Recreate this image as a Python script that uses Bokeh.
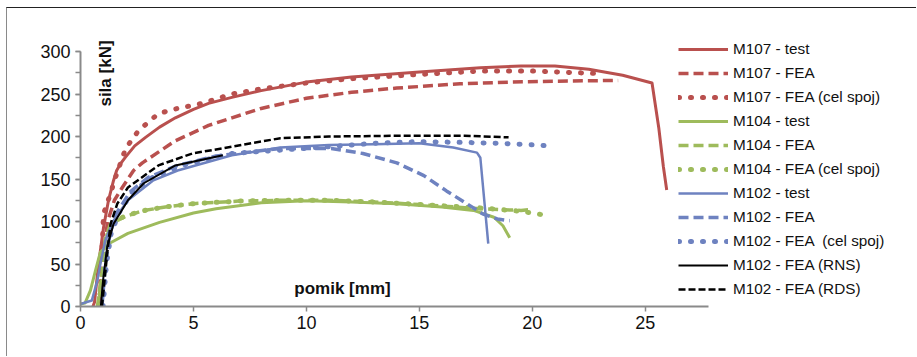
from bokeh.plotting import figure
from bokeh.models import SingleIntervalTicker, Label, Range1d
from bokeh.embed import file_html
from bokeh.resources import INLINE
from math import pi

# ---- data (displacement [mm], force [kN]) ----
m107_test_x = [0.55, 0.62, 0.8, 1.02, 1.24, 1.46, 1.6, 1.8, 2.0, 2.4, 2.88, 3.5, 4.2, 5.0, 5.67, 6.7, 8.0, 10, 12, 15, 17.7, 19.5, 21.0, 22.5, 24.0, 25.3, 25.6, 25.8, 25.95]
m107_test_y = [0, 5, 50, 93, 125, 148, 160, 169, 176, 189, 199, 211, 222, 232, 239, 246, 254, 264, 270, 276, 281, 283, 283, 279, 272, 263, 210, 165, 137]

m107_fea_x = [0.8, 1.0, 1.2, 1.5, 1.85, 2.35, 2.74, 4.2, 5.67, 6.7, 8, 10, 12, 14, 16.8, 19, 21, 23.8]
m107_fea_y = [0, 60, 100, 125, 140, 160, 169, 195, 213, 222, 233, 245, 252, 257, 262, 264, 265, 266]

m107_cel_x = [0.85, 1.02, 1.33, 1.55, 2.0, 2.57, 3.45, 4.3, 5.4, 6.7, 8, 10, 12, 15, 17.7, 20, 23]
m107_cel_y = [0, 109, 133, 152, 186, 207, 227, 233, 239, 250, 256, 263, 268, 273, 277, 277, 274]

m104_test_x = [0, 0.2, 0.44, 0.66, 0.88, 1.33, 2.1, 3.5, 5, 6, 8, 10, 12, 14, 16, 17.4, 18.3, 18.7, 19.0]
m104_test_y = [3, 4, 19, 42, 64, 75, 86, 99, 110, 115, 122, 124.5, 123, 121, 117, 113, 105, 95, 81]

m104_fea_x = [0.75, 0.95, 1.1, 1.33, 2.0, 2.8, 4, 5, 7, 9, 11, 13, 15, 17.7, 19.5, 19.9]
m104_fea_y = [0, 40, 80, 97, 106, 113, 118, 121, 124, 125, 125, 123, 120, 115, 113, 114]

m104_cel_x = [0.8, 1.0, 1.15, 1.4, 2.0, 3, 4, 5, 7, 9, 11, 13, 15, 17.7, 19.5, 20.45]
m104_cel_y = [0, 40, 80, 98, 107, 114, 118, 121, 124, 125, 125, 123, 120, 116, 112, 108]

m102_test_x = [0, 0.5, 0.75, 0.88, 1.1, 1.46, 2.1, 3.2, 4.3, 6.7, 8.85, 11, 13, 15, 16.5, 17.55, 17.7, 18.05]
m102_test_y = [3, 7, 31, 50, 78, 101, 125, 148, 160, 178, 187, 190, 191, 192, 187, 181, 175, 74]

m102_fea_x = [0.95, 1.1, 1.3, 1.6, 2.2, 3, 4.3, 6, 8.85, 11.1, 12.5, 14.0, 15.2, 16.2, 17.1, 17.8, 18.45, 19.0]
m102_fea_y = [0, 50, 85, 110, 135, 152, 166, 177, 186, 186, 180, 169, 154, 136, 121, 109, 103, 101]

m102_cel_x = [1.0, 1.15, 1.35, 1.7, 2.3, 3.2, 4.5, 6.7, 8.85, 11, 13, 15, 17, 18.5, 20.2, 20.7]
m102_cel_y = [0, 50, 85, 110, 135, 152, 166, 180, 184, 188, 192, 194, 193, 192, 190, 189]

m102_rns_x = [0.9, 1.0, 1.18, 1.46, 2.1, 2.8, 4.2, 6.3]
m102_rns_y = [0, 31, 70, 97, 125, 145, 166, 178]

m102_rds_x = [0.95, 1.18, 1.33, 1.63, 2.1, 3.45, 4.95, 6.7, 8.85, 11, 14.7, 17, 18.95]
m102_rds_y = [0, 62, 97, 121, 140, 166, 180, 188, 198, 200, 201, 201, 199]

labels = ["M107 - test", "M107 - FEA", "M107 - FEA (cel spoj)",
          "M104 - test", "M104 - FEA", "M104 - FEA (cel spoj)",
          "M102 - test", "M102 - FEA", "M102 - FEA  (cel spoj)",
          "M102 - FEA (RNS)", "M102 - FEA (RDS)"]

x_label = "pomik [mm]"
y_label = "sila [kN]"

x_axis_max = 27.8
y_axis_max = 300

RED = "#B9504E"
GREEN = "#9EBB5C"
BLUE = "#6E82C0"
BLACK = "#000000"

FONT = "Liberation Sans"

# layout: axis extents in pixels, frame larger so legend / titles are not clipped
x_axis_px = 628
y_axis_px = 255
frame_w = 825
frame_h = 286
x_end = x_axis_max * frame_w / x_axis_px
y_end = y_axis_max * frame_h / y_axis_px

p = figure(width=910, height=349, output_backend="svg", toolbar_location=None,
           x_range=Range1d(0, x_end), y_range=Range1d(0, y_end),
           min_border_left=73, min_border_right=910 - 73 - frame_w,
           min_border_top=349 - 51 - frame_h, min_border_bottom=51)
p.styles = {"margin-left": "6px", "margin-top": "7px",
            "border-left": "1px solid #8a8a8a", "border-top": "1px solid #222222"}

p.grid.visible = False
p.outline_line_color = None
p.background_fill_color = "white"
p.border_fill_color = "white"

dash = "10 5"
dot = "1 11"

series = [
    (m107_test_x, m107_test_y, RED, 3, "solid", "butt"),
    (m107_fea_x, m107_fea_y, RED, 3.5, dash, "butt"),
    (m107_cel_x, m107_cel_y, RED, 5, dot, "round"),
    (m104_test_x, m104_test_y, GREEN, 3, "solid", "butt"),
    (m104_fea_x, m104_fea_y, GREEN, 3.5, dash, "butt"),
    (m104_cel_x, m104_cel_y, GREEN, 5, dot, "round"),
    (m102_test_x, m102_test_y, BLUE, 2.5, "solid", "butt"),
    (m102_fea_x, m102_fea_y, BLUE, 3.5, dash, "butt"),
    (m102_cel_x, m102_cel_y, BLUE, 5, dot, "round"),
    (m102_rns_x, m102_rns_y, BLACK, 2, "solid", "butt"),
    (m102_rds_x, m102_rds_y, BLACK, 2.5, "7 3", "butt"),
]

for (xs, ys, col, lw, ld, cap), lab in zip(series, labels):
    p.line(xs, ys, line_color=col, line_width=lw, line_dash=ld, line_cap=cap,
           line_join="round", legend_label=lab)

# axes
for ax in (p.xaxis[0], p.yaxis[0]):
    ax.axis_line_color = "#8a8a8a"
    ax.axis_line_width = 2
    ax.major_tick_line_color = "#8a8a8a"
    ax.major_tick_line_width = 1.5
    ax.minor_tick_line_color = "#8a8a8a"
    ax.minor_tick_line_width = 1.5
    ax.major_tick_in = 0
    ax.major_tick_out = 5
    ax.minor_tick_in = 0
    ax.major_label_text_font = FONT
    ax.major_label_text_font_size = "18px"
    ax.major_label_text_color = "#111111"

p.xaxis.bounds = (0, x_axis_max)
p.yaxis.bounds = (0, y_axis_max)
p.xaxis.ticker = SingleIntervalTicker(interval=5, num_minor_ticks=0)
p.xaxis.minor_tick_out = 0
p.xaxis.major_label_standoff = 4
p.yaxis.ticker = SingleIntervalTicker(interval=50, num_minor_ticks=2)
p.yaxis.minor_tick_out = 5
p.yaxis.major_label_standoff = 5

# axis titles placed inside plot area like the original
p.add_layout(Label(x=25, y=233, x_units="screen", y_units="screen", text=y_label,
                   angle=pi / 2, text_align="center", text_baseline="middle",
                   text_font=FONT, text_font_style="bold", text_font_size="17px",
                   text_color="#111111"))
p.add_layout(Label(x=262, y=18, x_units="screen", y_units="screen", text=x_label,
                   text_align="center", text_baseline="middle",
                   text_font=FONT, text_font_style="bold", text_font_size="17px",
                   text_color="#111111"))

lg = p.legend[0]
lg.location = (598, 7)
lg.padding = 0
lg.margin = 0
lg.border_line_color = None
lg.background_fill_alpha = 0
lg.label_text_font = FONT
lg.label_text_font_size = "15.3px"
lg.label_text_color = "#111111"
lg.glyph_width = 50
lg.glyph_height = 20
lg.label_height = 20
lg.label_standoff = 5
lg.spacing = 4

open("out.html", "w").write(file_html(p, INLINE))
